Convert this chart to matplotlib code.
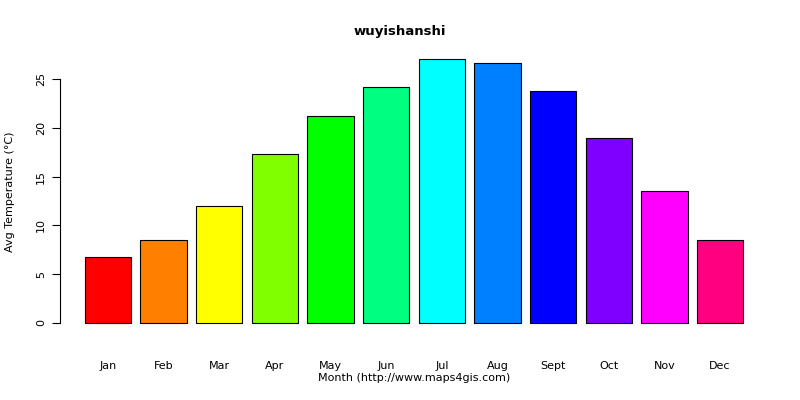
import matplotlib
matplotlib.use("Agg")
import matplotlib.pyplot as plt

months = ["Jan","Feb","Mar","Apr","May","Jun","Jul","Aug","Sept","Oct","Nov","Dec"]
temps = [6.8, 8.5, 12.0, 17.3, 21.2, 24.2, 27.0, 26.6, 23.8, 19.0, 13.5, 8.5]
colors = ["#FF0000","#FF8000","#FFFF00","#80FF00","#00FF00","#00FF80",
          "#00FFFF","#0080FF","#0000FF","#8000FF","#FF00FF","#FF0080"]
yticks = [0, 5, 10, 15, 20, 25]

W, H = 800, 400
fig = plt.figure(figsize=(8, 4), dpi=100)
l, r, t, b = 60, 768, 50, 333
ax = fig.add_axes([l/W, 1-b/H, (r-l)/W, (b-t)/H])
x = list(range(len(months)))
ax.bar(x, temps, width=0.833, color=colors, edgecolor="black", linewidth=0.8)
ax.set_xlim(-(108-l)/55.6, 11+(r-720)/55.6)
ys = 9.76
ax.set_ylim(-(b-323)/ys, (323-t)/ys)
for s in ["top", "right", "bottom"]:
    ax.spines[s].set_visible(False)
ax.spines["left"].set_bounds(0, 25)
ax.spines["left"].set_linewidth(0.8)
ax.set_yticks(yticks)
ax.set_yticklabels([str(v) for v in yticks], rotation=90, va="center", fontsize=8)
ax.tick_params(axis="y", length=6, width=0.8, pad=4)
ax.set_xticks(x)
ax.set_xticklabels(months, fontsize=8)
ax.tick_params(axis="x", length=0, pad=20)
fig.text(0.5, 1-32/H, "wuyishanshi", ha="center", va="center", fontsize=9.5, fontweight="bold")
fig.text(414/W, 1-378/H, "Month (http://www.maps4gis.com)", ha="center", va="center", fontsize=8)
fig.text(10/W, 1-192/H, "Avg Temperature (°C)", ha="center", va="center", rotation=90, fontsize=8)
fig.savefig("out.png", dpi=100)
